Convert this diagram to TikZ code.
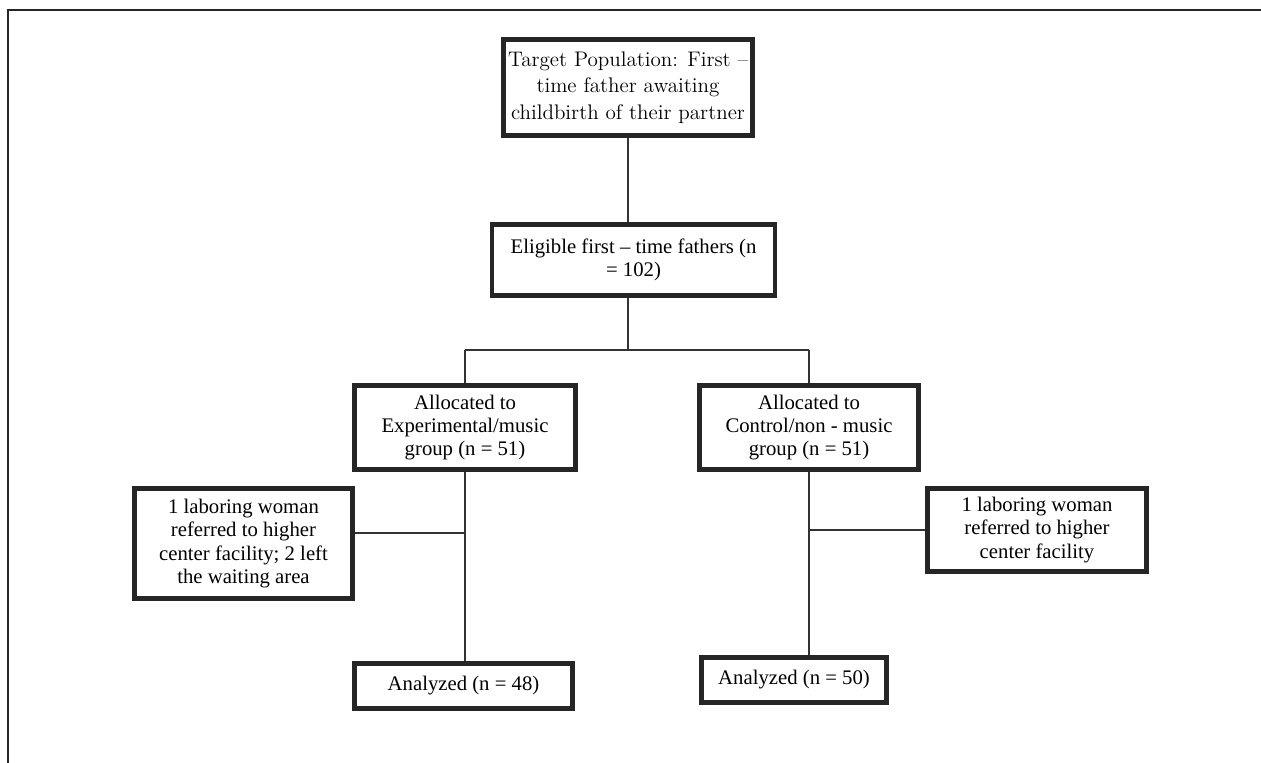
\documentclass[tikz,border=0pt]{standalone}
\usepackage{fontspec}
\newfontfamily\boxfont{Liberation Serif}
\usepackage{tikz}

\begin{document}
\begin{tikzpicture}[x=0.02cm, y=-0.02cm,
  box/.style={draw=black!85, line width=2.4pt, align=center, inner sep=0pt,
    font=\boxfont\fontsize{11.8}{13.3}\selectfont},
  link/.style={draw=black!80, line width=0.75pt}]
\useasboundingbox (0,0) rectangle (1261,763);
\draw[black!85, line width=1pt] (8,763) -- (8,10) -- (1261,10);

\node[box, minimum width=4.98cm, minimum height=1.92cm,
  font=\fontsize{12}{15}\selectfont] (target) at (628,87.5)
  {Target Population: First –\\time father awaiting\\childbirth of their partner};
\node[box, minimum width=5.66cm, minimum height=1.42cm] (elig) at (633.5,260)
  {Eligible first – time fathers (n\\= 102)};
\node[box, minimum width=4.42cm, minimum height=1.68cm] (allocL) at (465,427.5)
  {Allocated to\\Experimental/music\\group (n = 51)};
\node[box, minimum width=4.38cm, minimum height=1.68cm] (allocR) at (809,427.5)
  {Allocated to\\Control/non - music\\group (n = 51)};
\node[box, minimum width=4.36cm, minimum height=2.2cm] (sideL) at (243.5,543.5)
  {1 laboring woman\\referred to higher\\center facility; 2 left\\the waiting area};
\node[box, minimum width=4.38cm, minimum height=1.66cm] (sideR) at (1037,530)
  {1 laboring woman\\referred to higher\\center facility};
\node[box, minimum width=4.36cm, minimum height=0.9cm] (anaL) at (463.5,686)
  {Analyzed (n = 48)};
\node[box, minimum width=3.7cm, minimum height=0.9cm] (anaR) at (794,680)
  {Analyzed (n = 50)};

\coordinate (split) at (628,350);
\coordinate (splitL) at (465,350);
\coordinate (splitR) at (809,350);
\coordinate (joinL) at (465,533);
\coordinate (joinR) at (809,530);

\draw[link] (target.south) -- (target.south |- elig.north);
\draw[link] (split |- elig.south) -- (split);
\draw[link] (splitL) -- (splitR);
\draw[link] (splitL) -- (allocL.north);
\draw[link] (splitR) -- (allocR.north);
\draw[link] (allocL.south) -- (allocL.south |- anaL.north);
\draw[link] (allocR.south) -- (allocR.south |- anaR.north);
\draw[link] (joinL) -- (sideL.east |- joinL);
\draw[link] (joinR) -- (sideR.west);
\end{tikzpicture}
\end{document}
